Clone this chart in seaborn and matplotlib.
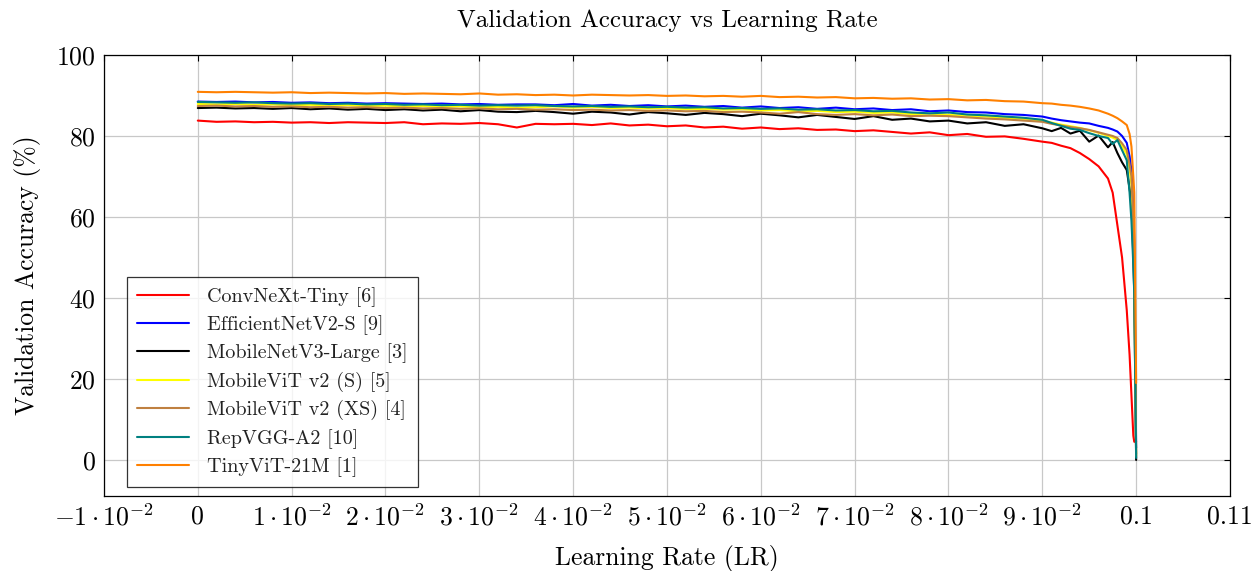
import matplotlib
matplotlib.use("Agg")
import matplotlib.pyplot as plt
import seaborn as sns
import pandas as pd

# learning-rate grid (shared by all models)
lr = [0.000, 0.002, 0.004, 0.006, 0.008, 0.010, 0.012, 0.014, 0.016, 0.018,
      0.020, 0.022, 0.024, 0.026, 0.028, 0.030, 0.032, 0.034, 0.036, 0.038,
      0.040, 0.042, 0.044, 0.046, 0.048, 0.050, 0.052, 0.054, 0.056, 0.058,
      0.060, 0.062, 0.064, 0.066, 0.068, 0.070, 0.072, 0.074, 0.076, 0.078,
      0.080, 0.082, 0.084, 0.086, 0.088, 0.090,
      0.091, 0.092, 0.093, 0.094, 0.095, 0.096, 0.097, 0.0975, 0.098, 0.0985,
      0.099, 0.0993, 0.0995, 0.0997, 0.0998, 0.100]

convnext = [83.8, 83.5, 83.6, 83.4, 83.5, 83.3, 83.4, 83.2, 83.4, 83.3,
            83.2, 83.4, 82.9, 83.1, 83.0, 83.2, 82.9, 82.1, 83.0, 82.9,
            83.0, 82.7, 83.1, 82.6, 82.8, 82.4, 82.6, 82.1, 82.3, 81.8,
            82.1, 81.7, 81.9, 81.5, 81.6, 81.2, 81.4, 81.0, 80.6, 80.9,
            80.2, 80.5, 79.8, 79.9, 79.3, 78.6,
            78.3, 77.6, 77.0, 75.8, 74.3, 72.5, 69.5, 66.0, 58.0, 50.0,
            37.0, 26.0, 16.0, 6.0, 4.5, 4.5]

effnet = [88.5, 88.4, 88.5, 88.3, 88.4, 88.2, 88.3, 88.1, 88.2, 88.0,
          88.1, 88.0, 87.9, 88.0, 87.8, 87.9, 87.7, 87.8, 87.8, 87.6,
          87.9, 87.5, 87.7, 87.4, 87.6, 87.3, 87.5, 87.2, 87.4, 87.0,
          87.3, 86.9, 87.1, 86.7, 87.0, 86.6, 86.8, 86.4, 86.6, 86.1,
          86.3, 85.9, 85.8, 85.4, 85.2, 84.8,
          84.3, 83.9, 83.6, 83.3, 83.1, 82.5, 82.0, 81.6, 81.1, 80.0,
          78.3, 75.0, 71.6, 62.0, 53.6, 3.0]

mobilenet = [86.9, 87.0, 86.8, 86.9, 86.7, 86.9, 86.6, 86.8, 86.5, 86.7,
             86.4, 86.6, 86.3, 86.5, 86.1, 86.4, 86.0, 85.9, 86.2, 85.9,
             85.5, 86.0, 85.8, 85.3, 85.9, 85.6, 85.2, 85.7, 85.4, 84.9,
             85.5, 85.1, 84.6, 85.2, 84.7, 84.2, 84.9, 84.0, 84.3, 83.6,
             83.8, 83.1, 83.4, 82.5, 82.9, 81.9,
             81.2, 82.0, 80.6, 81.3, 78.6, 80.1, 77.2, 78.5, 75.8, 73.5,
             71.6, 67.0, 64.0, 50.0, 41.0, 0.0]

mvit_s = [87.9, 87.8, 87.9, 87.7, 87.8, 87.6, 87.7, 87.5, 87.6, 87.4,
          87.5, 87.3, 87.4, 87.2, 87.3, 87.1, 87.2, 87.0, 87.1, 87.3,
          87.0, 87.2, 86.9, 87.0, 86.8, 86.9, 86.6, 86.7, 86.5, 86.6,
          86.3, 86.4, 86.1, 86.2, 85.9, 86.0, 85.7, 85.8, 85.4, 85.5,
          85.2, 85.0, 84.8, 84.5, 84.2, 83.8,
          83.3, 82.8, 82.4, 82.0, 81.4, 80.8, 80.0, 79.6, 79.0, 77.5,
          75.5, 72.0, 68.0, 55.0, 46.0, 1.0]

mvit_xs = [87.4, 87.5, 87.3, 87.4, 87.2, 87.3, 87.1, 87.2, 87.0, 87.1,
           86.9, 87.0, 86.8, 86.9, 86.7, 86.8, 86.6, 86.7, 86.5, 86.6,
           86.4, 86.5, 86.3, 86.4, 86.2, 86.3, 86.1, 86.2, 85.9, 86.0,
           85.8, 85.5, 85.9, 85.4, 85.2, 85.4, 85.1, 85.3, 84.9, 85.0,
           84.9, 84.6, 84.3, 84.1, 83.8, 83.5,
           83.0, 82.6, 82.2, 81.9, 81.5, 80.9, 80.3, 80.0, 79.5, 78.2,
           76.5, 73.0, 70.0, 58.0, 49.0, 1.5]

repvgg = [88.4, 88.3, 88.2, 88.3, 88.1, 88.0, 88.1, 87.9, 88.0, 87.8,
          87.9, 87.7, 87.8, 87.6, 87.7, 87.5, 87.6, 87.5, 87.6, 87.4,
          87.3, 87.4, 87.2, 87.3, 87.1, 87.2, 87.0, 87.1, 86.8, 86.9,
          86.7, 86.8, 86.5, 86.6, 86.3, 86.4, 86.1, 86.2, 85.8, 85.6,
          85.8, 85.3, 85.1, 84.8, 84.5, 84.0,
          83.2, 82.5, 81.8, 81.5, 80.7, 80.0, 79.5, 78.0, 79.0, 76.5,
          74.0, 66.0, 59.0, 48.0, 41.0, 0.5]

tinyvit = [90.9, 90.8, 90.9, 90.8, 90.7, 90.8, 90.6, 90.7, 90.6, 90.5,
           90.6, 90.4, 90.5, 90.4, 90.3, 90.5, 90.2, 90.3, 90.1, 90.2,
           90.0, 90.2, 90.1, 90.0, 90.1, 89.9, 90.0, 89.8, 89.9, 89.7,
           89.9, 89.6, 89.7, 89.5, 89.6, 89.3, 89.4, 89.2, 89.3, 89.0,
           89.1, 88.8, 88.9, 88.6, 88.5, 88.1,
           88.0, 87.7, 87.5, 87.2, 86.8, 86.3, 85.5, 85.0, 84.4, 83.6,
           82.7, 80.5, 77.4, 70.0, 66.0, 19.0]

models = ["ConvNeXt-Tiny [6]", "EfficientNetV2-S [9]", "MobileNetV3-Large [3]",
          "MobileViT v2 (S) [5]", "MobileViT v2 (XS) [4]", "RepVGG-A2 [10]",
          "TinyViT-21M [1]"]
series = [convnext, effnet, mobilenet, mvit_s, mvit_xs, repvgg, tinyvit]
colors = ["#ff0000", "#0000ff", "#000000", "#ffff00", "#bf8040", "#008080", "#ff8000"]

xticks = [-0.01, 0, 0.01, 0.02, 0.03, 0.04, 0.05, 0.06, 0.07, 0.08, 0.09, 0.10, 0.11]
xticklabels = [r"$-1\cdot10^{-2}$", "0", r"$1\cdot10^{-2}$", r"$2\cdot10^{-2}$",
               r"$3\cdot10^{-2}$", r"$4\cdot10^{-2}$", r"$5\cdot10^{-2}$",
               r"$6\cdot10^{-2}$", r"$7\cdot10^{-2}$", r"$8\cdot10^{-2}$",
               r"$9\cdot10^{-2}$", "0.1", "0.11"]
yticks = [0, 20, 40, 60, 80, 100]

sns.set_style("whitegrid")
plt.rcParams['font.family'] = ['cmr10', 'DejaVu Serif']
plt.rcParams['mathtext.fontset'] = 'cm'
plt.rcParams['axes.formatter.use_mathtext'] = True
plt.rcParams['axes.unicode_minus'] = False
plt.rcParams['text.color'] = 'black'
plt.rcParams['axes.labelcolor'] = 'black'

fig = plt.figure(figsize=(12.57, 5.71), dpi=100)
ax = fig.add_axes([0.0827, 0.1313, 0.8958, 0.7724])

for name, vals, c in zip(models, series, colors):
    df = pd.DataFrame({"lr": lr, "acc": vals})
    sns.lineplot(data=df, x="lr", y="acc", color=c, linewidth=1.5,
                 label=name, ax=ax, sort=False)

ax.set_xlim(-0.01, 0.11)
ax.set_ylim(-8.9, 100)
ax.set_xticks(xticks)
ax.set_xticklabels(xticklabels)
ax.set_yticks(yticks)
ax.tick_params(direction="in", length=4, width=0.8, top=True, right=True,
               labelsize=18.5, colors="black", pad=6)
ax.grid(True, color="#c8c8c8", linewidth=0.9)
for s in ax.spines.values():
    s.set_color("black")
    s.set_linewidth(0.9)

ax.set_title("Validation Accuracy vs Learning Rate", fontsize=18, pad=20, color="black")
ax.set_xlabel("Learning Rate (LR)", fontsize=18.5, labelpad=10)
ax.set_ylabel("Validation Accuracy (%)", fontsize=18.5, labelpad=11)

leg = ax.legend(loc="lower left", bbox_to_anchor=(0.0204, 0.0204), borderaxespad=0,
                fontsize=14.5, frameon=True, fancybox=False, handlelength=2.6,
                handletextpad=0.9, labelspacing=0.42, borderpad=0.5)
leg.get_frame().set_edgecolor("black")
leg.get_frame().set_linewidth(0.9)
for t in leg.get_texts():
    t.set_color("#222222")

fig.savefig("out.png", dpi=100)
